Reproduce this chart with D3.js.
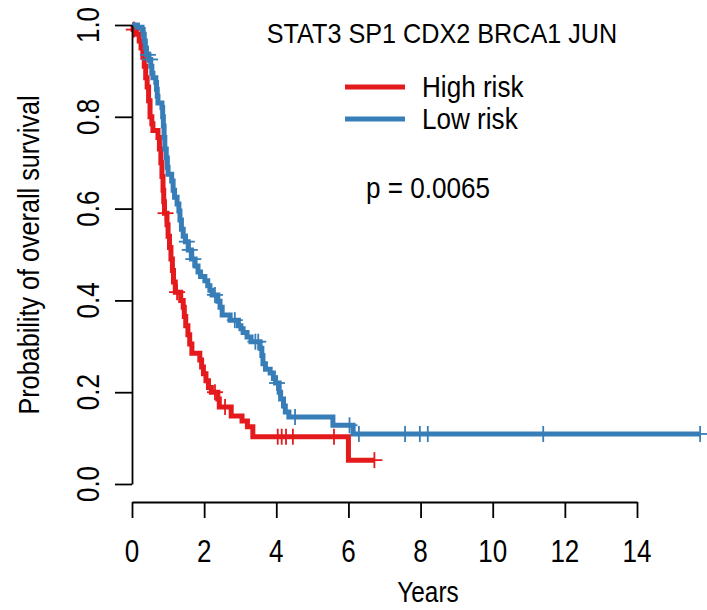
<!DOCTYPE html>
<html><head><meta charset="utf-8">
<script src="https://cdn.jsdelivr.net/npm/d3@7"></script>
<style>body{margin:0;background:#fff}svg{display:block}text{font-family:"Liberation Sans",Arial,sans-serif;fill:#000}</style>
</head><body><svg id="c" width="707" height="610"></svg>
<script>
// ---- data ----
const seriesNames = ["High risk", "Low risk"];
const seriesColors = ["#E41A1C", "#377EB8"];
const xTicks = [0, 2, 4, 6, 8, 10, 12, 14];
const yTicks = [0.0, 0.2, 0.4, 0.6, 0.8, 1.0];
// events: [time in years, survival after step]
const highEvents = [[0.03,0.99],[0.12,0.98],[0.2,0.965],[0.25,0.95],[0.3,0.93],[0.34,0.91],[0.38,0.885],[0.42,0.865],[0.46,0.835],[0.5,0.80],[0.55,0.785],[0.58,0.77],[0.72,0.755],[0.76,0.73],[0.8,0.70],[0.83,0.67],[0.86,0.64],[0.88,0.615],[0.9,0.59],[0.97,0.565],[1.0,0.54],[1.04,0.515],[1.08,0.49],[1.12,0.465],[1.15,0.44],[1.2,0.418],[1.35,0.40],[1.42,0.385],[1.45,0.365],[1.49,0.345],[1.55,0.325],[1.6,0.305],[1.66,0.285],[1.88,0.27],[1.93,0.255],[1.98,0.24],[2.05,0.225],[2.12,0.21],[2.2,0.2],[2.38,0.185],[2.42,0.168],[2.75,0.148],[3.05,0.137],[3.2,0.125],[3.35,0.103],[6.0,0.052]];
const highCensor = [0.05, 0.93, 1.25, 2.3, 2.58, 4.04, 4.15, 4.27, 4.46, 5.6, 6.72];
const lowEvents = [[0.15,0.995],[0.28,0.99],[0.31,0.98],[0.34,0.965],[0.37,0.95],[0.4,0.935],[0.47,0.925],[0.52,0.91],[0.55,0.895],[0.58,0.885],[0.66,0.875],[0.68,0.86],[0.7,0.845],[0.72,0.83],[0.83,0.82],[0.85,0.8],[0.87,0.78],[0.89,0.755],[0.91,0.73],[0.95,0.71],[0.98,0.69],[1.0,0.675],[1.1,0.66],[1.14,0.64],[1.18,0.625],[1.25,0.61],[1.3,0.595],[1.33,0.575],[1.37,0.555],[1.42,0.54],[1.48,0.528],[1.56,0.51],[1.65,0.49],[1.75,0.475],[1.83,0.462],[1.9,0.452],[2.02,0.443],[2.1,0.432],[2.16,0.422],[2.22,0.412],[2.38,0.398],[2.44,0.385],[2.5,0.368],[2.72,0.357],[2.95,0.345],[3.02,0.338],[3.08,0.33],[3.19,0.32],[3.3,0.31],[3.55,0.296],[3.6,0.28],[3.63,0.262],[3.7,0.25],[3.83,0.242],[3.92,0.23],[3.98,0.22],[4.08,0.2],[4.12,0.185],[4.2,0.17],[4.25,0.157],[4.35,0.146],[5.57,0.128],[6.13,0.109]];
const lowCensor = [0.44, 0.5, 1.52, 1.6, 1.7, 2.3, 2.85, 3.42, 3.5, 4.02, 4.52, 6.03, 6.29, 7.57, 7.98, 8.2, 11.4, 15.75];
const titleText = "STAT3 SP1 CDX2 BRCA1 JUN";
const pText = "p = 0.0065";
const xLabel = "Years";
const yLabel = "Probability of overall survival";

// ---- drawing ----
const svg = d3.select("#c");
const x = d3.scaleLinear().domain([0, 14]).range([132, 637]);
const y = d3.scaleLinear().domain([0, 1]).range([484, 25]);
const SX = 0.84;  // axis text glyph compression
const SX2 = 0.9;  // annotation text glyph compression

function stepAt(events, t) { let s = 1; for (const e of events) { if (e[0] <= t) s = e[1]; } return s; }

const groups = [
  {events: highEvents, censor: highCensor, color: seriesColors[0]},
  {events: lowEvents, censor: lowCensor, color: seriesColors[1]}
];
const line = d3.line().x(d => x(d[0])).y(d => y(d[1])).curve(d3.curveStepAfter);
groups.forEach(g => {
  const last = Math.max(d3.max(g.events, d => d[0]), d3.max(g.censor));
  const pts = [[0, 1], ...g.events, [last, stepAt(g.events, last)]];
  svg.append("path").attr("d", line(pts)).attr("fill", "none")
    .attr("stroke", g.color).attr("stroke-width", 5).attr("stroke-linejoin", "miter");
  const cg = svg.append("g").attr("stroke", g.color).attr("stroke-width", 1.8);
  g.censor.forEach(t => {
    const cx = x(t), cy = y(stepAt(g.events, t));
    cg.append("line").attr("x1", cx - 8).attr("x2", cx + 8).attr("y1", cy).attr("y2", cy);
    cg.append("line").attr("x1", cx).attr("x2", cx).attr("y1", cy - 8).attr("y2", cy + 8);
  });
});

// axes
const xa = svg.append("g").attr("transform", "translate(0,502)")
  .call(d3.axisBottom(x).tickValues(xTicks).tickSize(16).tickSizeOuter(0).tickFormat(d3.format("d")));
const ya = svg.append("g").attr("transform", "translate(132,0)")
  .call(d3.axisLeft(y).tickValues(yTicks).tickSize(17).tickSizeOuter(0).tickFormat(d3.format(".1f")));
[xa, ya].forEach(a => { a.selectAll("path,line").attr("stroke", "#000").attr("stroke-width", 1.8); });
xa.selectAll(".tick text").remove();
ya.selectAll(".tick text").remove();
xTicks.forEach(v => {
  svg.append("text").attr("transform", `translate(${x(v)},562) scale(${SX},1)`)
    .attr("text-anchor", "middle").attr("font-size", 31).text(d3.format("d")(v));
});
yTicks.forEach(v => {
  svg.append("text").attr("transform", `translate(99,${y(v)}) rotate(-90) scale(${SX},1)`)
    .attr("text-anchor", "middle").attr("font-size", 31).text(d3.format(".1f")(v));
});
svg.append("text").attr("transform", `translate(428,602) scale(${SX},1)`)
  .attr("text-anchor", "middle").attr("font-size", 29).text(xLabel);
svg.append("text").attr("transform", `translate(39,255) rotate(-90) scale(${SX},1)`)
  .attr("text-anchor", "middle").attr("font-size", 30).text(yLabel);

// title & p value
svg.append("text").attr("transform", `translate(442,43) scale(${SX2},1)`)
  .attr("text-anchor", "middle").attr("font-size", 28).text(titleText);
svg.append("text").attr("transform", `translate(366,198) scale(${SX2},1)`)
  .attr("font-size", 29).text(pText);

// legend
seriesNames.forEach((n, i) => {
  const ly = 87 + i * 32;
  svg.append("line").attr("x1", 345).attr("x2", 405).attr("y1", ly).attr("y2", ly)
    .attr("stroke", seriesColors[i]).attr("stroke-width", 5);
  svg.append("text").attr("transform", `translate(422,${ly + 10}) scale(${SX2},1)`)
    .attr("font-size", 29).text(n);
});
</script></body></html>
